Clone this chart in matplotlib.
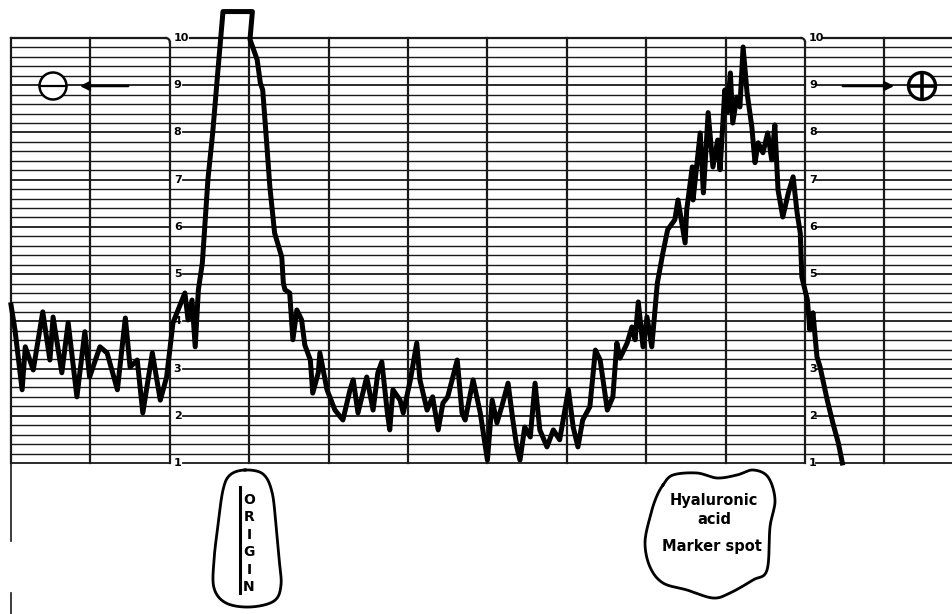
import numpy as np
import matplotlib
matplotlib.use('Agg')
import matplotlib.pyplot as plt
from matplotlib.patches import Circle

# densitometer trace: position along strip (chart divisions) vs reading (scale units)
position = [0.00, 0.05, 0.14, 0.18, 0.28, 0.40, 0.49, 0.53, 0.64, 0.72, 0.83, 0.93, 0.99,
            1.12, 1.21, 1.34, 1.44, 1.50, 1.59, 1.66, 1.78, 1.88, 1.96, 2.04, 2.13, 2.19,
            2.23, 2.28, 2.32, 2.36, 2.41, 2.48, 2.54, 2.61, 2.67, 3.04, 3.01, 3.10, 3.14,
            3.17, 3.22, 3.26, 3.32, 3.41, 3.43, 3.45, 3.51, 3.55, 3.60, 3.66, 3.70, 3.77,
            3.80, 3.87, 3.89, 3.98, 4.08, 4.18, 4.27, 4.31, 4.37, 4.48, 4.56, 4.62, 4.67,
            4.74, 4.77, 4.81, 4.90, 4.94, 5.03, 5.11, 5.15, 5.24, 5.31, 5.38, 5.44, 5.50,
            5.62, 5.68, 5.72, 5.82, 5.91, 6.00, 6.06, 6.12, 6.18, 6.26, 6.32, 6.37, 6.41,
            6.47, 6.54, 6.60, 6.66, 6.75, 6.83, 6.91, 7.02, 7.08, 7.14, 7.20, 7.29, 7.36,
            7.42, 7.51, 7.58, 7.63, 7.67, 7.76, 7.82, 7.86, 7.90, 7.96, 8.01, 8.07, 8.14,
            8.21, 8.27, 8.36, 8.40, 8.49, 8.51, 8.58, 8.59, 8.68, 8.72, 8.78, 8.84, 8.90,
            8.93, 8.99, 9.02, 9.06, 9.09, 9.14, 9.18, 9.22, 9.27, 9.33, 9.37, 9.41, 9.47,
            9.53, 9.58, 9.62, 9.66, 9.72, 9.79, 9.85, 9.90, 9.94, 9.96, 10.03, 10.06,
            10.10, 10.15, 10.19, 10.28, 10.35, 10.42, 10.47]
reading = [4.35, 3.82, 2.55, 3.46, 2.97, 4.20, 3.18, 4.09, 2.91, 3.97, 2.40, 3.78, 2.82,
           3.46, 3.33, 2.55, 4.07, 3.03, 3.18, 2.06, 3.33, 2.33, 2.82, 3.97, 4.35, 4.60,
           4.03, 4.45, 3.46, 4.67, 5.24, 7.00, 7.99, 9.39, 10.56, 10.56, 9.97, 9.54, 9.05,
           8.90, 7.78, 6.85, 5.87, 5.36, 4.81, 4.67, 4.60, 3.61, 4.24, 4.03, 3.50, 3.18,
           2.48, 2.91, 3.33, 2.55, 2.12, 1.91, 2.55, 2.76, 2.06, 2.82, 2.12, 2.91, 3.14,
           2.06, 1.70, 2.55, 2.33, 2.06, 2.76, 3.54, 2.76, 2.12, 2.40, 1.70, 2.27, 2.40,
           3.18, 2.06, 1.91, 2.76, 2.06, 1.06, 2.33, 1.85, 2.19, 2.69, 1.91, 1.34, 1.06,
           1.76, 1.55, 2.69, 1.70, 1.34, 1.70, 1.49, 2.55, 1.76, 1.34, 1.91, 2.19, 3.39,
           3.18, 2.12, 2.40, 3.54, 3.22, 3.54, 3.88, 3.61, 4.41, 3.46, 4.09, 3.46, 4.81,
           5.45, 5.94, 6.15, 6.57, 5.66, 6.36, 7.27, 6.57, 7.99, 6.72, 8.42, 7.27, 7.84,
           7.21, 8.90, 8.42, 9.26, 8.20, 8.75, 8.54, 9.81, 8.84, 8.12, 7.36, 7.78, 7.57,
           7.99, 7.42, 8.16, 6.78, 6.21, 6.72, 7.06, 6.30, 5.87, 4.94, 4.45, 3.82,
           4.18, 3.25, 3.03, 2.33, 1.85, 1.42, 1.00]

scale_labels = ['1', '2', '3', '4', '5', '6', '7', '8', '9', '10']
n_divisions = 11
label_columns = [2, 10]


def smooth_closed(pts, n=40):
    # closed Catmull-Rom curve through the given outline points
    p = np.array(pts, dtype=float)
    out = []
    m = len(p)
    for i in range(m):
        p0, p1, p2, p3 = p[i - 1], p[i], p[(i + 1) % m], p[(i + 2) % m]
        t = np.linspace(0, 1, n, endpoint=False)[:, None]
        out.append(0.5 * ((2 * p1) + (-p0 + p2) * t + (2 * p0 - 5 * p1 + 4 * p2 - p3) * t ** 2
                          + (-p0 + 3 * p1 - 3 * p2 + p3) * t ** 3))
    out = np.vstack(out)
    return np.vstack([out, out[:1]])


fig = plt.figure(figsize=(9.52, 6.14), dpi=100)
ax = fig.add_axes([0, 0, 1, 1])
ax.set_xlim(-0.1385, 11.851)
ax.set_ylim(-2.199, 10.805)
ax.axis('off')

ink = '#1a1a1a'
xmax = 11.851

# minor horizontal rulings
for v in np.arange(1.2, 10.0, 0.2):
    if abs(v - round(v)) < 1e-6:
        continue
    ax.plot([0, xmax], [v, v], color=ink, lw=1.0, zorder=1)

# integer rulings, broken where the scale numbers sit
for lab in scale_labels:
    v = int(lab)
    gap_l = 2.25 if v == 10 else 2.17
    gap_r = 10.23 if v == 10 else 10.14
    if v == 10:
        # top edge with rounded corners at the label columns
        for x0, x1 in [(0, 2), (gap_l, 10)]:
            ax.plot([x0, x1 - 0.05], [v, v], color=ink, lw=1.6, zorder=2)
            t = np.linspace(0, np.pi / 2, 12)
            ax.plot(x1 - 0.05 + 0.05 * np.sin(t), v - 0.085 + 0.085 * np.cos(t), color=ink, lw=1.6, zorder=2)
        ax.plot([gap_r, xmax], [v, v], color=ink, lw=1.6, zorder=2)
    else:
        ax.plot([0, 2], [v, v], color=ink, lw=1.3, zorder=2)
        ax.plot([gap_l, 10], [v, v], color=ink, lw=1.3, zorder=2)
        ax.plot([gap_r, xmax], [v, v], color=ink, lw=1.3, zorder=2)
    for c in label_columns:
        ax.text(c + 0.05, v, lab, fontsize=8, fontweight='bold', ha='left', va='center',
                color='black', zorder=3)

# vertical rulings
for d in range(n_divisions + 1):
    top = 10 - 0.085 if d in label_columns else 10
    ax.plot([d, d], [1, top], color=ink, lw=1.6, zorder=2)

# left paper edge below the chart
ax.plot([0, 0], [1, -0.65], color=ink, lw=1.2)
ax.plot([0, 0], [-1.75, -2.2], color=ink, lw=1.2)

# the trace
ax.plot(position, reading, color='black', lw=3.6, solid_joinstyle='round', zorder=5)

# annotation layer in pixel coordinates
ov = fig.add_axes([0, 0, 1, 1], facecolor='none')
ov.set_xlim(0, 952)
ov.set_ylim(614, 0)
ov.axis('off')

ov.add_patch(Circle((53, 86), 13.5, facecolor='white', edgecolor='black', lw=1.8, zorder=4))
ov.plot([40, 66], [86, 86], color='black', lw=1.6, zorder=5)
ov.annotate('', xy=(77, 86), xytext=(131, 86),
            arrowprops=dict(arrowstyle='-|>', color='black', lw=1.8, mutation_scale=13))

ov.add_patch(Circle((922, 86), 13.5, facecolor='white', edgecolor='black', lw=2.4, zorder=4))
ov.plot([909, 935], [86, 86], color='black', lw=2.6, zorder=5)
ov.plot([922, 922], [73, 99], color='black', lw=2.6, zorder=5)
ov.annotate('', xy=(897, 86), xytext=(840, 86),
            arrowprops=dict(arrowstyle='-|>', color='black', lw=1.8, mutation_scale=13))

# ORIGIN spot
origin_outline = [(245, 470), (263, 474), (272, 492), (276, 525), (279, 558), (281, 585),
                  (274, 601), (250, 607), (226, 603), (214, 588), (214, 560), (218, 525),
                  (223, 490), (230, 475)]
o = smooth_closed(origin_outline)
ov.plot(o[:, 0], o[:, 1], color='black', lw=2.0)
ov.plot([240, 240], [487, 593], color='black', lw=2.2)
for i, ch in enumerate('ORIGIN'):
    ov.text(249, 500 + i * 17.4, ch, fontsize=10, fontweight='bold', ha='center', va='center')

# marker spot
marker_outline = [(663, 485), (673, 475), (697, 473), (717, 478), (737, 475), (753, 470),
                  (768, 477), (775, 500), (770, 527), (767, 570), (753, 580), (730, 593),
                  (713, 598), (687, 590), (663, 583), (650, 567), (645, 543), (650, 517),
                  (656, 498)]
m = smooth_closed(marker_outline)
ov.plot(m[:, 0], m[:, 1], color='black', lw=2.0)
ov.text(714, 500, 'Hyaluronic', fontsize=10.5, fontweight='bold', ha='center', va='center')
ov.text(714, 519, 'acid', fontsize=10.5, fontweight='bold', ha='center', va='center')
ov.text(712, 546, 'Marker spot', fontsize=10.5, fontweight='bold', ha='center', va='center')

fig.savefig('out.png', dpi=100)
